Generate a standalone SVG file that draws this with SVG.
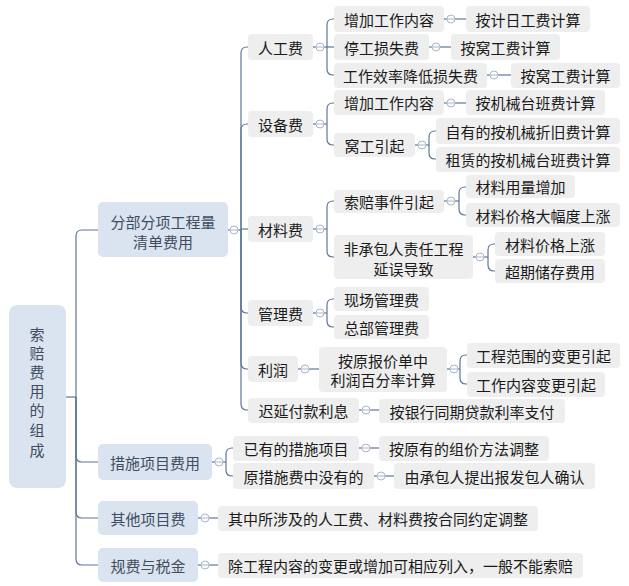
<svg xmlns="http://www.w3.org/2000/svg" width="629" height="586" viewBox="0 0 629 586">
<style>
text{font-family:"Noto Sans CJK SC","Liberation Sans",sans-serif;font-size:15px;text-anchor:middle;dominant-baseline:central}
.n0 rect,.n1 rect{fill:#dae4f0}
.n0 text,.n1 text{fill:#3f4d5f}
.n2 rect{fill:#eeeeee}
.n2 text{fill:#1a1a1a}
.c path{fill:none;stroke:#5f7699;stroke-width:1.2}
.k circle{fill:#fff;stroke:#a8b6c8;stroke-width:1}
.k path{fill:none;stroke:#a8b6c8;stroke-width:1}
</style>
<rect width="629" height="586" fill="#fff"/>
<g id="connectors" class="c">
<path d="M66 397H76"/>
<path d="M76 397V236Q76 230 82 230H98"/>
<path d="M76 397V456Q76 462 82 462H98"/>
<path d="M76 397V512Q76 518 82 518H98"/>
<path d="M76 397V559Q76 565 82 565H98"/>
<path d="M228 230H241"/>
<path d="M241 230V53Q241 47 247 47H248"/>
<path d="M241 230V130Q241 124 247 124H248"/>
<path d="M241 229H248"/>
<path d="M241 230V307Q241 313 247 313H248"/>
<path d="M241 230V363Q241 369 247 369H248"/>
<path d="M241 230V404Q241 410 247 410H248"/>
<path d="M313 47H327"/>
<path d="M327 47V25Q327 19 333 19H334"/>
<path d="M327 47H334"/>
<path d="M327 47V69Q327 75 333 75H334"/>
<path d="M313 124H327"/>
<path d="M327 124V109Q327 103 333 103H334"/>
<path d="M327 124V139Q327 145 333 145H334"/>
<path d="M313 229H327"/>
<path d="M327 229V207Q327 201 333 201H334"/>
<path d="M327 229V251Q327 257 333 257H334"/>
<path d="M313 313H327"/>
<path d="M327 313V305Q327 299 333 299H334"/>
<path d="M327 313V321Q327 327 333 327H334"/>
<path d="M298 369H319"/>
<path d="M359 410H379"/>
<path d="M444 19H466"/>
<path d="M429 47H451"/>
<path d="M487 75H511"/>
<path d="M444 103H466"/>
<path d="M415 145H429"/>
<path d="M429 145V137Q429 131 435 131H436"/>
<path d="M429 145V153Q429 159 435 159H436"/>
<path d="M444 201H459"/>
<path d="M459 201V193Q459 187 465 187H466"/>
<path d="M459 201V209Q459 215 465 215H466"/>
<path d="M473 257H488"/>
<path d="M488 257V250Q488 244 494 244H495"/>
<path d="M488 257V265Q488 271 494 271H495"/>
<path d="M447 369H460"/>
<path d="M460 369V361Q460 355 466 355H467"/>
<path d="M460 369V378Q460 384 466 384H467"/>
<path d="M212 462H226"/>
<path d="M226 462V454Q226 448 232 448H233"/>
<path d="M226 462V470Q226 476 232 476H233"/>
<path d="M359 448H379"/>
<path d="M374 476H394"/>
<path d="M198 518H218"/>
<path d="M198 565H218"/>
</g>
<g id="toggles" class="k">
<circle cx="234" cy="230" r="4"/><path d="M231 230H237"/>
<circle cx="320" cy="47" r="4"/><path d="M317 47H323"/>
<circle cx="320" cy="124" r="4"/><path d="M317 124H323"/>
<circle cx="320" cy="229" r="4"/><path d="M317 229H323"/>
<circle cx="320" cy="313" r="4"/><path d="M317 313H323"/>
<circle cx="305" cy="369" r="4"/><path d="M302 369H308"/>
<circle cx="366" cy="410" r="4"/><path d="M363 410H369"/>
<circle cx="451" cy="19" r="4"/><path d="M448 19H454"/>
<circle cx="436" cy="47" r="4"/><path d="M433 47H439"/>
<circle cx="494" cy="75" r="4"/><path d="M491 75H497"/>
<circle cx="451" cy="103" r="4"/><path d="M448 103H454"/>
<circle cx="422" cy="145" r="4"/><path d="M419 145H425"/>
<circle cx="451" cy="201" r="4"/><path d="M448 201H454"/>
<circle cx="480" cy="257" r="4"/><path d="M477 257H483"/>
<circle cx="454" cy="369" r="4"/><path d="M451 369H457"/>
<circle cx="219" cy="462" r="4"/><path d="M216 462H222"/>
<circle cx="366" cy="448" r="4"/><path d="M363 448H369"/>
<circle cx="381" cy="476" r="4"/><path d="M378 476H384"/>
<circle cx="205" cy="518" r="4"/><path d="M202 518H208"/>
<circle cx="205" cy="565" r="4"/><path d="M202 565H208"/>
</g>
<g id="root" class="n0"><rect x="9" y="305" width="57" height="183" rx="8"/>
<text x="37" y="333">索</text><text x="37" y="352">赔</text><text x="37" y="371">费</text><text x="37" y="390">用</text><text x="37" y="409">的</text><text x="37" y="429">组</text><text x="37" y="449">成</text></g>
<g id="n-fbfx" class="n1"><rect x="98" y="202" width="130" height="55" rx="5"/><text x="163" y="221">分部分项工程量</text><text x="163" y="241">清单费用</text></g>
<g id="n-csxm" class="n1"><rect x="98" y="444" width="114" height="36" rx="5"/><text x="155" y="462">措施项目费用</text></g>
<g id="n-qtxm" class="n1"><rect x="98" y="501" width="100" height="34" rx="5"/><text x="148" y="518">其他项目费</text></g>
<g id="n-gfsj" class="n1"><rect x="98" y="548" width="100" height="34" rx="5"/><text x="148" y="565">规费与税金</text></g>
<g id="n-rgf" class="n2"><rect x="248" y="34" width="65" height="26" rx="4"/><text x="280.5" y="47">人工费</text></g>
<g id="n-sbf" class="n2"><rect x="248" y="111" width="65" height="26" rx="4"/><text x="280.5" y="124">设备费</text></g>
<g id="n-clf" class="n2"><rect x="248" y="216" width="65" height="26" rx="4"/><text x="280.5" y="229">材料费</text></g>
<g id="n-glf" class="n2"><rect x="248" y="300" width="65" height="26" rx="4"/><text x="280.5" y="313">管理费</text></g>
<g id="n-lr" class="n2"><rect x="248" y="356" width="50" height="26" rx="4"/><text x="273" y="369">利润</text></g>
<g id="n-cyfk" class="n2"><rect x="248" y="398" width="111" height="25" rx="4"/><text x="303.5" y="410.5">迟延付款利息</text></g>
<g id="n-rg1" class="n2"><rect x="334" y="6" width="110" height="26" rx="4"/><text x="389" y="19">增加工作内容</text></g>
<g id="n-rg1a" class="n2"><rect x="466" y="6" width="124" height="26" rx="4"/><text x="528" y="19">按计日工费计算</text></g>
<g id="n-rg2" class="n2"><rect x="334" y="34" width="95" height="26" rx="4"/><text x="381.5" y="47">停工损失费</text></g>
<g id="n-rg2a" class="n2"><rect x="451" y="34" width="109" height="26" rx="4"/><text x="505.5" y="47">按窝工费计算</text></g>
<g id="n-rg3" class="n2"><rect x="334" y="63" width="153" height="25" rx="4"/><text x="410.5" y="75.5">工作效率降低损失费</text></g>
<g id="n-rg3a" class="n2"><rect x="511" y="63" width="109" height="25" rx="4"/><text x="565.5" y="75.5">按窝工费计算</text></g>
<g id="n-sb1" class="n2"><rect x="334" y="90" width="110" height="25" rx="4"/><text x="389" y="102.5">增加工作内容</text></g>
<g id="n-sb1a" class="n2"><rect x="466" y="90" width="139" height="25" rx="4"/><text x="535.5" y="102.5">按机械台班费计算</text></g>
<g id="n-sb2" class="n2"><rect x="334" y="133" width="81" height="24" rx="4"/><text x="374.5" y="145">窝工引起</text></g>
<g id="n-sb2a" class="n2"><rect x="436" y="118" width="184" height="26" rx="4"/><text x="528" y="131">自有的按机械折旧费计算</text></g>
<g id="n-sb2b" class="n2"><rect x="436" y="147" width="184" height="25" rx="4"/><text x="528" y="159.5">租赁的按机械台班费计算</text></g>
<g id="n-cl1" class="n2"><rect x="334" y="190" width="110" height="23" rx="4"/><text x="389" y="201.5">索赔事件引起</text></g>
<g id="n-cl1a" class="n2"><rect x="466" y="175" width="109" height="23" rx="4"/><text x="520.5" y="186.5">材料用量增加</text></g>
<g id="n-cl1b" class="n2"><rect x="466" y="203" width="154" height="24" rx="4"/><text x="543" y="215">材料价格大幅度上涨</text></g>
<g id="n-cl2" class="n2"><rect x="334" y="235" width="139" height="44" rx="4"/><text x="403.5" y="248">非承包人责任工程</text><text x="403.5" y="268">延误导致</text></g>
<g id="n-cl2a" class="n2"><rect x="495" y="232" width="110" height="24" rx="4"/><text x="550" y="244">材料价格上涨</text></g>
<g id="n-cl2b" class="n2"><rect x="495" y="259" width="110" height="24" rx="4"/><text x="550" y="271">超期储存费用</text></g>
<g id="n-gl1" class="n2"><rect x="334" y="287" width="95" height="24" rx="4"/><text x="381.5" y="299">现场管理费</text></g>
<g id="n-gl2" class="n2"><rect x="334" y="315" width="95" height="24" rx="4"/><text x="381.5" y="327">总部管理费</text></g>
<g id="n-lr1" class="n2"><rect x="319" y="347" width="128" height="45" rx="4"/><text x="383" y="360">按原报价单中</text><text x="383" y="379">利润百分率计算</text></g>
<g id="n-lr1a" class="n2"><rect x="467" y="343" width="153" height="25" rx="4"/><text x="543.5" y="355.5">工程范围的变更引起</text></g>
<g id="n-lr1b" class="n2"><rect x="467" y="372" width="138" height="25" rx="4"/><text x="536" y="384.5">工作内容变更引起</text></g>
<g id="n-cy1" class="n2"><rect x="379" y="399" width="186" height="24" rx="4"/><text x="472" y="411">按银行同期贷款利率支付</text></g>
<g id="n-cs1" class="n2"><rect x="233" y="436" width="126" height="25" rx="4"/><text x="296" y="448.5">已有的措施项目</text></g>
<g id="n-cs1a" class="n2"><rect x="379" y="436" width="170" height="25" rx="4"/><text x="464" y="448.5">按原有的组价方法调整</text></g>
<g id="n-cs2" class="n2"><rect x="233" y="463" width="141" height="26" rx="4"/><text x="303.5" y="476">原措施费中没有的</text></g>
<g id="n-cs2a" class="n2"><rect x="394" y="463" width="201" height="26" rx="4"/><text x="494.5" y="476">由承包人提出报发包人确认</text></g>
<g id="n-qt1" class="n2"><rect x="218" y="506" width="320" height="25" rx="4"/><text x="378" y="518.5">其中所涉及的人工费、材料费按合同约定调整</text></g>
<g id="n-gf1" class="n2"><rect x="218" y="553" width="365" height="25" rx="4"/><text x="400.5" y="565.5">除工程内容的变更或增加可相应列入，一般不能索赔</text></g>
</svg>
